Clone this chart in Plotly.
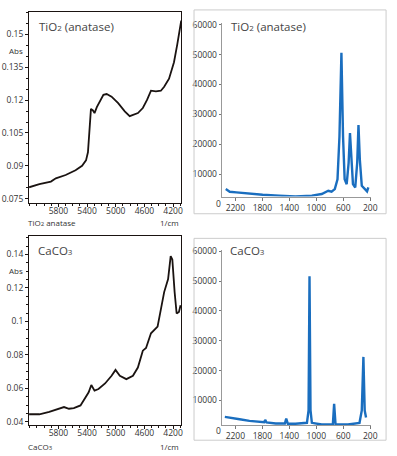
import plotly.graph_objects as go

W, H = 397, 456

# ---------------- data ----------------
tio2_nir_wn = [6210, 6066, 5905, 5836, 5699, 5561, 5470, 5415, 5388, 5369, 5355, 5346, 5318, 5296,
               5264, 5217, 5172, 5127, 5058, 4966, 4874, 4805, 4736, 4690, 4622, 4563, 4508, 4439,
               4370, 4324, 4256, 4187, 4141, 4104, 4086]
tio2_nir_abs = [0.0802, 0.0816, 0.0828, 0.0843, 0.0858, 0.0880, 0.0900, 0.0925, 0.0962, 0.1037,
                0.1112, 0.1160, 0.1153, 0.1141, 0.1168, 0.1194, 0.1224, 0.1228, 0.1216, 0.1186,
                0.1149, 0.1127, 0.1137, 0.1141, 0.1164, 0.1201, 0.1243, 0.1240, 0.1243, 0.1261,
                0.1298, 0.1373, 0.1455, 0.1530, 0.1563]

caco3_nir_wn = [6210, 6066, 5928, 5814, 5722, 5653, 5585, 5492, 5415, 5378, 5341, 5296, 5241, 5149,
                5058, 5003, 4943, 4852, 4760, 4691, 4622, 4577, 4508, 4416, 4324, 4269, 4233, 4210,
                4178, 4150, 4118, 4095]
caco3_nir_abs = [0.0445, 0.0445, 0.0459, 0.0476, 0.0488, 0.0478, 0.0482, 0.0498, 0.0547, 0.0576,
                 0.0620, 0.0586, 0.0596, 0.0629, 0.0675, 0.0710, 0.0675, 0.0655, 0.0675, 0.0724,
                 0.0825, 0.0841, 0.0929, 0.0969, 0.1175, 0.1253, 0.1390, 0.1370, 0.1175, 0.1047,
                 0.1057, 0.1096]

tio2_raman_shift = [2342, 2283, 2185, 2039, 1796, 1553, 1309, 1066, 920, 823, 774, 726, 686, 657,
                    628, 604, 580, 550, 521, 501, 482, 457, 423, 394, 375, 355, 326, 287, 248, 229]
tio2_raman_int = [4950, 4075, 3850, 3520, 3080, 2750, 2530, 2750, 3300, 4400, 4075, 4950, 8260,
                  22580, 50600, 22580, 8260, 6600, 13770, 23680, 14870, 6600, 5500, 13770, 26430,
                  14870, 6060, 4950, 4180, 5500]

caco3_raman_shift = [2356, 2283, 2137, 1991, 1845, 1772, 1758, 1737, 1601, 1466, 1446, 1422, 1309,
                     1212, 1139, 1115, 1101, 1086, 1066, 920, 755, 736, 715, 531, 360, 326, 302,
                     283, 263]
caco3_raman_int = [4500, 4180, 3740, 3190, 2750, 2750, 3520, 2640, 2300, 2300, 3960, 2200, 2200,
                   2300, 2530, 6700, 51600, 6700, 2530, 1980, 1980, 8900, 1980, 1980, 2530, 6700,
                   24600, 6700, 4290]

nir_x_ticks = [5800, 5400, 5000, 4600, 4200]
tio2_y_ticks = [0.075, 0.09, 0.105, 0.12, 0.135, 0.15]
tio2_y_text = ["0.075", "0.09", "0.105", "0.12", "0.135", "0.15"]
caco3_y_ticks = [0.04, 0.06, 0.08, 0.1, 0.12, 0.14]
caco3_y_text = ["0.04", "0.06", "0.08", "0.1", "0.12", "0.14"]
raman_x_ticks = [2200, 1800, 1400, 1000, 600, 200]
raman_y_ticks = [10000, 20000, 30000, 40000, 50000, 60000]
raman_y_text = ["10000", "20000", "30000", "40000", "50000", "60000"]

# ---------------- helpers ----------------
def px(x):
    return x / W

def py(y):
    return 1 - y / H

FONT = "Open Sans"
TXT = "#333333"
BLUE = "#1a6ebf"
BLACK = "#1a1311"

def sub(base, digit, size):
    return f"{base}<span style='font-size:{size}px'>{digit}</span>"

fig = go.Figure()
fig.add_trace(go.Scatter(x=tio2_nir_wn, y=tio2_nir_abs, mode="lines", line=dict(color=BLACK, width=1.8),
                         xaxis="x", yaxis="y", showlegend=False))
fig.add_trace(go.Scatter(x=tio2_raman_shift, y=tio2_raman_int, mode="lines", line=dict(color=BLUE, width=2.4),
                         xaxis="x2", yaxis="y2", showlegend=False))
fig.add_trace(go.Scatter(x=caco3_nir_wn, y=caco3_nir_abs, mode="lines", line=dict(color=BLACK, width=1.8),
                         xaxis="x3", yaxis="y3", showlegend=False))
fig.add_trace(go.Scatter(x=caco3_raman_shift, y=caco3_raman_int, mode="lines", line=dict(color=BLUE, width=2.4),
                         xaxis="x4", yaxis="y4", showlegend=False))

tf = dict(family=FONT, size=8.5, color=TXT)

def nir_x(anchor, domain):
    return dict(domain=domain, anchor=anchor, range=[6210, 4086], tickvals=nir_x_ticks,
                ticks="outside", ticklen=3, tickcolor=BLACK, showline=True, linecolor=BLACK,
                linewidth=1, mirror=True, showgrid=False, zeroline=False, tickfont=tf,
                ticklabelstandoff=-3,
                minor=dict(dtick=100, tick0=0, ticks="outside", ticklen=2, tickcolor=BLACK, showgrid=False))

def nir_y(anchor, domain, rng, tv, tt):
    return dict(domain=domain, anchor=anchor, range=rng, tickvals=tv, ticktext=tt,
                ticks="outside", ticklen=3, tickcolor=BLACK, showline=True, linecolor=BLACK,
                linewidth=1, mirror=True, showgrid=False, zeroline=False, tickfont=tf,
                minor=dict(dtick=0.005, tick0=0, ticks="outside", ticklen=2, tickcolor=BLACK, showgrid=False))

def raman_x(anchor, domain):
    return dict(domain=domain, anchor=anchor, range=[2404, 185], tickvals=raman_x_ticks,
                ticks="outside", ticklen=3, tickcolor="#777", showline=True, linecolor="#999",
                linewidth=1, showgrid=False, zeroline=False, tickfont=tf)

def raman_y(anchor, domain, rng):
    return dict(domain=domain, anchor=anchor, range=rng, tickvals=raman_y_ticks, ticktext=raman_y_text,
                ticks="outside", ticklen=2, tickcolor="#777", showline=True, linecolor="#999",
                linewidth=1, showgrid=False, zeroline=False, tickfont=tf)

xl = [px(29.5), px(184)]
xr = [px(225), px(377)]

fig.update_layout(
    width=W, height=H, margin=dict(l=0, r=0, t=0, b=0),
    paper_bgcolor="white", plot_bgcolor="white", showlegend=False,
    font=dict(family=FONT, color=TXT),
    xaxis=nir_x("y", xl),
    yaxis=nir_y("x", [py(200.7), py(7)], [0.0732, 0.1603], tio2_y_ticks, tio2_y_text),
    xaxis2=raman_x("y2", xr),
    yaxis2=raman_y("x2", [py(194.5), py(18.5)], [2470, 60500]),
    xaxis3=nir_x("y3", xl),
    yaxis3=nir_y("x3", [py(426.7), py(235)], [0.038, 0.1508], caco3_y_ticks, caco3_y_text),
    xaxis4=raman_x("y4", xr),
    yaxis4=raman_y("x4", [py(426.7), py(248.5)], [1750, 60500]),
)

# grey frames around Raman panels
for (y0, y1) in [(5, 212), (237, 442)]:
    fig.add_shape(type="rect", xref="paper", yref="paper", x0=px(197), x1=px(392),
                  y0=py(y1), y1=py(y0), line=dict(color="#cccccc", width=1), fillcolor="rgba(0,0,0,0)")

def ann(text, x, y, xanchor="left", size=8.5, color=TXT):
    fig.add_annotation(text=text, x=px(x), y=py(y), xref="paper", yref="paper", showarrow=False,
                       xanchor=xanchor, yanchor="middle", font=dict(family=FONT, size=size, color=color))

# titles inside panels
ann(sub("TiO", "2", 8) + " (anatase)", 38, 21.5, size=11.5, color="#444")
ann(sub("TiO", "2", 8) + " (anatase)", 233, 21.5, size=11.5, color="#444")
ann(sub("CaCO", "3", 8), 37, 249, size=11.5, color="#444")
ann(sub("CaCO", "3", 8), 232, 249, size=11.5, color="#444")

# axis captions
ann("Abs", 16, 46.5, xanchor="center", size=8)
ann("Abs", 16, 269.5, xanchor="center", size=8)
ann(sub("TiO", "2", 6) + " anatase", 26, 221, size=8)
ann("1/cm", 184, 221, xanchor="right", size=8)
ann(sub("CaCO", "3", 6), 26, 448.5, size=8)
ann("1/cm", 184, 448.5, xanchor="right", size=8)

# zero labels on Raman y axes (below the truncated axis)
ann("0", 222, 202, xanchor="center", size=8.5)
ann("0", 222, 432, xanchor="center", size=8.5)

fig.write_html("out.html", config={"displayModeBar": False},
               post_script="document.body.style.margin='0px';document.body.style.overflow='hidden';")
